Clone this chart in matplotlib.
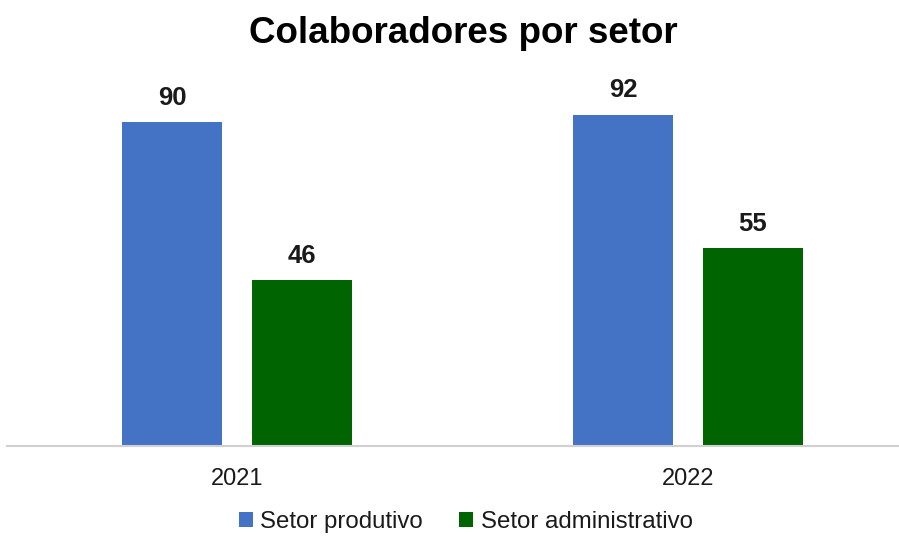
"""Colaboradores por setor - barras agrupadas."""
import matplotlib
matplotlib.use("Agg")
import matplotlib.pyplot as plt
import numpy as np

anos = ["2021", "2022"]
setor_produtivo = [90, 92]
setor_administrativo = [46, 55]

plt.rcParams["font.family"] = ["Liberation Sans", "DejaVu Sans"]

fig = plt.figure(figsize=(8.99, 5.38), dpi=100)
ax = fig.add_axes([7 / 899, 0.171, 1 - 7 / 899, 0.669])

x = np.arange(len(anos))
largura = 0.222
desloc = 0.1435

b1 = ax.bar(x - desloc, setor_produtivo, largura, color="#4472C4", label="Setor produtivo")
b2 = ax.bar(x + desloc, setor_administrativo, largura, color="#006400", label="Setor administrativo")

for barras in (b1, b2):
    ax.bar_label(barras, padding=9, fontsize=18.5, fontweight="bold", color="#1a1a1a")

ax.set_xlim(-0.51, 1.468)
ax.set_ylim(0, 100)
ax.set_xticks(x)
ax.set_xticklabels(anos, fontsize=17, color="#1a1a1a")
ax.tick_params(axis="x", length=0, pad=16)
ax.set_yticks([])
for lado in ("top", "right", "left"):
    ax.spines[lado].set_visible(False)
ax.spines["bottom"].set_color("#d0d0d0")
ax.spines["bottom"].set_linewidth(1.5)

fig.text(0.515, 0.937, "Colaboradores por setor", ha="center", va="center",
         fontsize=26.5, fontweight="bold", color="black")

fig.legend(loc="center", bbox_to_anchor=(0.518, 0.03), ncol=2, frameon=False,
           fontsize=17.3, handlelength=0.6, handleheight=0.6, handletextpad=0.3,
           columnspacing=1.5, labelcolor="#1a1a1a", borderpad=0.1)

fig.savefig("out.png", dpi=100)
plt.close(fig)
